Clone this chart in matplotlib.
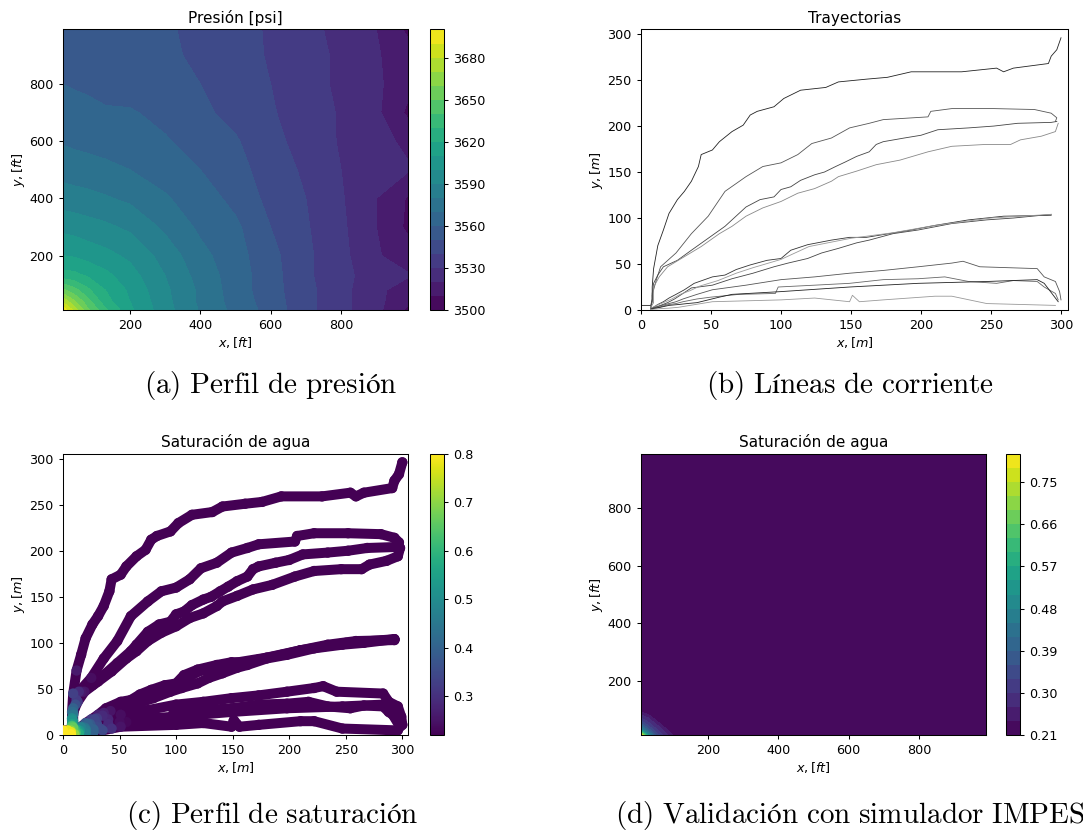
import matplotlib
matplotlib.use("Agg")
import matplotlib.pyplot as plt
import numpy as np

W, H = 1083, 830
plt.rcParams.update({
    "font.family": "DejaVu Sans",
    "font.size": 9.2,
    "axes.linewidth": 0.75,
    "xtick.major.width": 0.75,
    "ytick.major.width": 0.75,
    "xtick.major.size": 3.2,
    "ytick.major.size": 3.2,
})

# ── (a) campo de presión [psi] en malla gruesa (x, y en ft) ──────────────────
p_x = [10, 40, 80, 130, 200, 300, 400, 500, 600, 700, 800, 900, 990]
p_y = [10, 40, 80, 130, 200, 300, 400, 500, 600, 700, 800, 900, 990]
p_val = [
    [3697, 3678, 3652, 3632, 3612, 3594, 3579, 3567, 3556, 3543, 3533, 3523, 3508],
    [3678, 3662, 3644, 3624, 3610, 3593, 3578, 3566, 3555, 3543, 3533, 3523, 3512],
    [3652, 3644, 3632, 3620, 3608, 3592, 3578, 3565, 3554, 3543, 3533, 3523, 3514],
    [3624, 3623, 3619, 3613, 3604, 3590, 3576, 3565, 3554, 3542, 3533, 3525, 3521],
    [3610, 3609, 3606, 3603, 3598, 3586, 3573, 3564, 3553, 3542, 3533, 3521, 3515],
    [3597, 3596, 3594, 3592, 3588, 3578, 3568, 3562, 3550, 3541, 3532, 3520, 3508],
    [3585, 3584, 3583, 3581, 3578, 3571, 3565, 3557, 3547, 3540, 3531, 3520, 3509],
    [3576, 3575, 3574, 3573, 3570, 3566, 3560, 3553, 3546, 3538, 3530, 3525, 3521],
    [3569, 3568, 3567, 3565, 3563, 3561, 3556, 3551, 3543, 3536, 3529, 3523, 3518],
    [3564, 3564, 3563, 3561, 3561, 3557, 3552, 3547, 3541, 3535, 3529, 3522, 3508],
    [3560, 3559, 3558, 3557, 3555, 3553, 3550, 3545, 3540, 3534, 3528, 3522, 3513],
    [3557, 3557, 3556, 3554, 3552, 3551, 3549, 3544, 3539, 3534, 3528, 3521, 3514],
    [3555, 3555, 3554, 3553, 3552, 3551, 3548, 3543, 3539, 3533, 3527, 3520, 3508],
]
p_levels = list(range(3500, 3701, 10))
p_ticks = [3500, 3530, 3560, 3590, 3620, 3650, 3680]

# ── (d) saturación de agua IMPES (x, y en ft) ─────────────────────────────────
s_x = [10, 30, 50, 70, 90, 110, 990]
s_y = [10, 30, 50, 70, 90, 110, 990]
s_val = [
    [0.805, 0.50, 0.37, 0.30, 0.26, 0.215, 0.215],
    [0.48, 0.37, 0.31, 0.27, 0.225, 0.215, 0.215],
    [0.36, 0.31, 0.27, 0.225, 0.215, 0.215, 0.215],
    [0.30, 0.27, 0.225, 0.215, 0.215, 0.215, 0.215],
    [0.24, 0.22, 0.215, 0.215, 0.215, 0.215, 0.215],
    [0.215, 0.215, 0.215, 0.215, 0.215, 0.215, 0.215],
    [0.215, 0.215, 0.215, 0.215, 0.215, 0.215, 0.215],
]
s_levels = [0.21 + 0.03 * k for k in range(21)]
s_ticks = [0.21, 0.30, 0.39, 0.48, 0.57, 0.66, 0.75]

# ── (b)/(c) trayectorias [m] ──────────────────────────────────────────────────
x1 = [0, 4, 7, 8, 8, 8, 9, 12, 16, 20, 26, 31, 36, 41, 43, 51, 56, 65, 73, 78, 83, 95, 102,
      114, 132, 141, 161, 176, 193, 229, 254, 259, 266, 291, 293, 297, 300]
y1 = [5, 5, 5, 12, 18, 25, 45, 70, 87, 105, 120, 129, 140, 156, 169, 174, 183, 194, 201, 212, 216, 221, 230,
      239, 242, 248, 251, 253, 259, 259, 263, 259, 263, 268, 276, 283, 296]
x2a = [7, 8, 8, 9, 11, 14, 25, 36, 48, 60, 75, 87, 100, 112, 122, 136, 149, 163, 173, 205, 207,
       222, 252, 281, 293, 297, 296]
y2a = [3, 10, 16, 22, 33, 47, 62, 83, 102, 129, 145, 156, 160, 169, 181, 187, 198, 203, 207, 210, 216,
       219, 219, 218, 214, 209, 205]
x2b = [7, 8, 8, 9, 12, 16, 26, 36, 48, 60, 65, 75, 85, 95, 100, 107, 114, 124, 131, 139, 146, 154, 163,
       168, 173, 188, 200, 212, 234, 252, 269, 293, 297]
y2b = [3, 9, 18, 29, 38, 47, 54, 65, 78, 91, 98, 112, 120, 123, 131, 134, 141, 147, 150, 156, 161, 167, 172,
       180, 183, 187, 190, 196, 198, 200, 203, 204, 205]
x2c = [7, 9, 9, 9, 13, 19, 31, 43, 56, 65, 75, 87, 100, 112, 124, 136, 141, 154, 168, 185, 205, 222, 246,
       264, 271, 286, 296, 298]
y2c = [3, 8, 15, 25, 36, 47, 58, 69, 83, 91, 102, 111, 118, 127, 132, 140, 145, 151, 158, 163, 172, 178, 180,
       180, 185, 189, 194, 203]
x3a = [7, 9, 12, 16, 20, 25, 31, 38, 51, 60, 68, 78, 90, 100, 107, 119, 136, 149, 161, 173, 193, 210, 234,
       259, 293]
y3a = [2, 3, 6, 9, 13, 17, 22, 29, 36, 38, 44, 49, 54, 56, 65, 71, 76, 79, 79, 82, 87, 92, 98, 102, 103]
x3b = [7, 10, 14, 19, 24, 30, 36, 51, 65, 80, 95, 105, 119, 129, 141, 154, 163, 180, 198, 222, 247, 266, 293]
y3b = [2, 3, 5, 8, 12, 18, 24, 27, 34, 40, 47, 51, 56, 62, 67, 73, 76, 83, 87, 94, 98, 100, 104]
x3c = [7, 11, 16, 22, 28, 35, 42, 55, 68, 80, 100, 120, 150, 180, 210, 250, 293]
y3c = [2, 5, 8, 12, 17, 21, 26, 32, 40, 46, 55, 69, 78, 84, 92, 100, 104]
x4a = [7, 11, 15, 20, 25, 30, 40, 51, 75, 100, 124, 149, 173, 198, 222, 230, 242, 283, 288, 296, 299, 300]
y4a = [1, 3, 5, 7, 9, 12, 17, 22, 27, 33, 36, 40, 43, 47, 51, 53, 47, 45, 36, 31, 20, 11]
x4b = [7, 11, 15, 20, 25, 30, 40, 50, 70, 96, 98, 124, 149, 173, 198, 217, 234, 254, 266, 283, 288, 296, 298]
y4b = [1, 2, 4, 6, 7, 9, 12, 14, 17, 18, 25, 27, 29, 33, 34, 36, 31, 29, 32, 31, 25, 18, 11]
x4c = [7, 10, 14, 20, 27, 33, 40, 56, 65, 100, 149, 198, 247, 283, 288, 298]
y4c = [1, 2, 3, 5, 6, 7, 8, 14, 17, 20, 25, 29, 31, 33, 29, 9]
x4d = [7, 10, 14, 20, 27, 35, 43, 51, 100, 124, 149, 151, 156, 173, 210, 222, 247, 296]
y4d = [0.5, 1, 1.5, 2, 3, 5, 7, 9, 11, 13, 9, 16, 9, 11, 15, 15, 7, 5]

# saturación en los primeros puntos de cada trayectoria; el resto es Swc
sw_c = 0.22
sw1 = [0.80, 0.78, 0.70, 0.55, 0.48, 0.42, 0.33, 0.26]
sw2a = [0.78, 0.62, 0.52, 0.45, 0.36, 0.29, 0.24]
sw2b = [0.76, 0.64, 0.50, 0.40, 0.32, 0.26]
sw2c = [0.74, 0.66, 0.52, 0.42, 0.31, 0.25]
sw3a = [0.78, 0.66, 0.55, 0.45, 0.38, 0.32, 0.27]
sw3b = [0.77, 0.62, 0.52, 0.44, 0.38, 0.32, 0.27]
sw3c = [0.75, 0.60, 0.48, 0.40, 0.34, 0.29, 0.25]
sw4a = [0.79, 0.62, 0.50, 0.43, 0.38, 0.34, 0.28, 0.24]
sw4b = [0.78, 0.64, 0.52, 0.45, 0.40, 0.35, 0.29, 0.24]
sw4c = [0.77, 0.66, 0.55, 0.46, 0.40, 0.34, 0.29, 0.23]
sw4d = [0.80, 0.70, 0.58, 0.48, 0.40, 0.35, 0.30, 0.25]

trajs = [(x1, y1, sw1, "#222222"), (x2a, y2a, sw2a, "#555555"), (x2b, y2b, sw2b, "#444444"),
         (x2c, y2c, sw2c, "#888888"), (x3a, y3a, sw3a, "#333333"), (x3b, y3b, sw3b, "#444444"),
         (x3c, y3c, sw3c, "#999999"), (x4a, y4a, sw4a, "#555555"), (x4b, y4b, sw4b, "#666666"),
         (x4c, y4c, sw4c, "#222222"), (x4d, y4d, sw4d, "#999999")]


def box(l, t, r, b):
    return [l / W, 1 - b / H, (r - l) / W, (b - t) / H]


fig = plt.figure(figsize=(W / 100, H / 100), dpi=100)

# (a)
ax = fig.add_axes(box(63, 29.5, 408, 310))
cs = ax.contourf(p_x, p_y, p_val, levels=p_levels, cmap="viridis")
ax.set_title("Presión [psi]", fontsize=11, pad=5)
ax.set_xlabel(r"$x, [ft]$", labelpad=2)
ax.set_ylabel(r"$y, [ft]$", labelpad=2)
ax.set_xticks([200, 400, 600, 800])
ax.set_yticks([200, 400, 600, 800])
cax = fig.add_axes(box(430, 29.5, 444, 310))
fig.colorbar(cs, cax=cax, ticks=p_ticks)

# (b)
ax = fig.add_axes(box(641, 29.5, 1068, 310))
for tx, ty, _, col in trajs:
    ax.plot(tx, ty, color=col, lw=0.6)
ax.set_xlim(0, 305)
ax.set_ylim(0, 305)
ax.set_xticks(range(0, 301, 50))
ax.set_yticks(range(0, 301, 50))
ax.set_title("Trayectorias", fontsize=11, pad=5)
ax.set_xlabel(r"$x, [m]$", labelpad=2)
ax.set_ylabel(r"$y, [m]$", labelpad=2)

# (c)
ax = fig.add_axes(box(63, 454, 408, 735))
cmap = plt.get_cmap("viridis")
all_x, all_y, all_s = [], [], []
for tx, ty, sw, _ in trajs:
    ax.plot(tx, ty, color=cmap(0.0), lw=7.2, solid_capstyle="round",
            solid_joinstyle="round", zorder=2)
    s_full = sw + [sw_c] * (len(tx) - len(sw))
    all_x += tx
    all_y += ty
    all_s += s_full
order = np.argsort(all_s, kind="stable")
sc = ax.scatter(np.array(all_x)[order], np.array(all_y)[order], c=np.array(all_s)[order],
                cmap="viridis", vmin=0.22, vmax=0.80, s=55, lw=0, zorder=3)
ax.set_xlim(0, 305)
ax.set_ylim(0, 305)
ax.set_xticks(range(0, 301, 50))
ax.set_yticks(range(0, 301, 50))
ax.set_title("Saturación de agua", fontsize=11, pad=5)
ax.set_xlabel(r"$x, [m]$", labelpad=2)
ax.set_ylabel(r"$y, [m]$", labelpad=2)
cax = fig.add_axes(box(430, 454, 444, 735))
fig.colorbar(sc, cax=cax, ticks=[0.3, 0.4, 0.5, 0.6, 0.7, 0.8])

# (d)
ax = fig.add_axes(box(641, 454, 986, 735))
cs = ax.contourf(s_x, s_y, s_val, levels=s_levels, cmap="viridis")
ax.set_title("Saturación de agua", fontsize=11, pad=5)
ax.set_xlabel(r"$x, [ft]$", labelpad=2)
ax.set_ylabel(r"$y, [ft]$", labelpad=2)
ax.set_xticks([200, 400, 600, 800])
ax.set_yticks([200, 400, 600, 800])
cax = fig.add_axes(box(1006, 454, 1020, 735))
fig.colorbar(cs, cax=cax, ticks=s_ticks, format="%.2f")

# captions (LaTeX-like)
caps = [(271, 385, r"$\mathrm{(a)\ Perfil\ de\ presión}$"),
        (850, 385, r"$\mathrm{(b)\ Líneas\ de\ corriente}$"),
        (272, 815, r"$\mathrm{(c)\ Perfil\ de\ saturación}$"),
        (850, 815, r"$\mathrm{(d)\ Validación\ con\ simulador\ IMPES}$")]
for cx, cy, txt in caps:
    fig.text(cx / W, 1 - cy / H, txt, ha="center", va="center", fontsize=21,
             math_fontfamily="cm")

fig.savefig("out.png", dpi=100)
